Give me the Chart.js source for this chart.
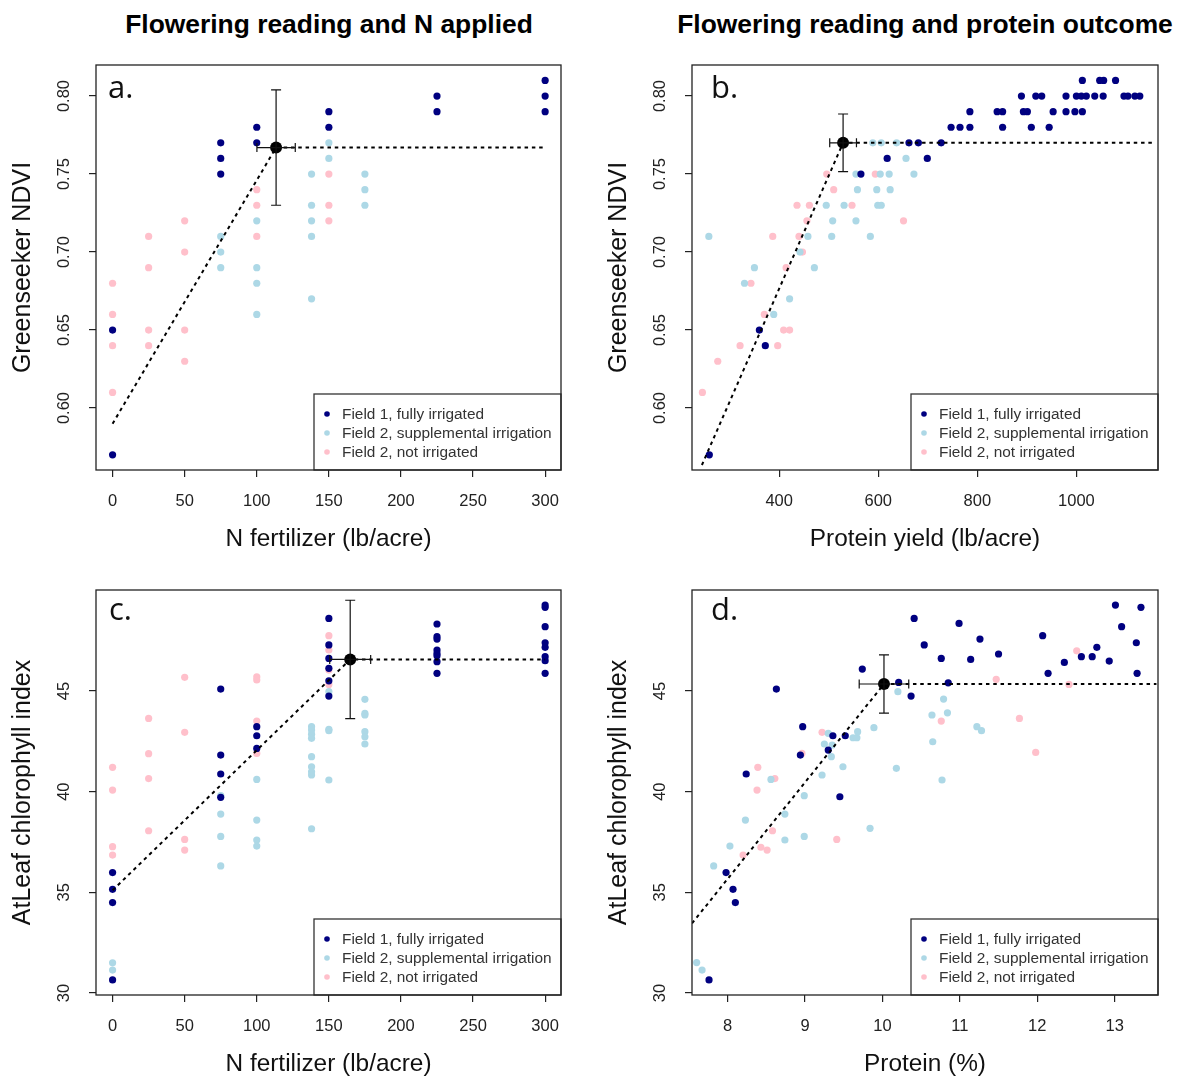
<!DOCTYPE html>
<html lang="en">
<head>
<meta charset="UTF-8">
<title>Flowering reading panels</title>
<script src="https://cdn.jsdelivr.net/npm/chart.js@4.4.1/dist/chart.umd.min.js"></script>
<style>
    body {
        margin: 0;
        background: #ffffff;
        width: 1178px;
        height: 1081px;
        position: relative;
        overflow: hidden;
        font-family: "Liberation Sans", Arial, sans-serif;
    }
    canvas { position: absolute; }
    .title {
        position: absolute;
        font-weight: bold;
        font-size: 26.4px;
        line-height: 30px;
        color: #000;
        white-space: nowrap;
        transform: translateX(-50%);
    }
</style>
</head>
<body>
<div class="title" style="left:329px; top:9px;">Flowering reading and N applied</div>
<div class="title" style="left:925px; top:9px;">Flowering reading and protein outcome</div>

<canvas id="chartA" width="595" height="556" style="left:0px; top:0px;"></canvas>
<canvas id="chartB" width="582" height="556" style="left:596px; top:0px;"></canvas>
<canvas id="chartC" width="595" height="556" style="left:0px; top:525px;"></canvas>
<canvas id="chartD" width="582" height="556" style="left:596px; top:525px;"></canvas>

<script>
// ---- tick labels ----
const nTicks = [0, 50, 100, 150, 200, 250, 300];
const yieldTicks = [400, 600, 800, 1000];
const proteinTicks = [8, 9, 10, 11, 12, 13];
const ndviTicks = [0.60, 0.65, 0.70, 0.75, 0.80];
const chlTicks = [30, 35, 40, 45];

const seriesNames = ['Field 1, fully irrigated', 'Field 2, supplemental irrigation', 'Field 2, not irrigated'];

// ---- a. NDVI vs N fertilizer ----
const aField1 = [[0,0.65],[0,0.57],[75,0.77],[75,0.76],[75,0.75],[100,0.78],[100,0.77],[150,0.79],[150,0.78],
    [225,0.80],[225,0.79],[300,0.81],[300,0.80],[300,0.79]];
const aSupp = [[75,0.71],[75,0.70],[75,0.69],[100,0.72],[100,0.69],[100,0.68],[100,0.66],[138,0.75],[138,0.73],
    [138,0.72],[138,0.71],[138,0.67],[150,0.77],[150,0.76],[175,0.75],[175,0.74],[175,0.73]];
const aDry = [[0,0.68],[0,0.66],[0,0.64],[0,0.61],[25,0.71],[25,0.69],[25,0.65],[25,0.64],[50,0.72],[50,0.70],
    [50,0.65],[50,0.63],[100,0.74],[100,0.73],[100,0.71],[150,0.75],[150,0.73],[150,0.72]];
const aFit = [[0,0.590],[113.4,0.767],[300,0.767]];
const aBreak = [113.4, 0.767, 13.3, 0.037];   // x, y, x error, y error

// ---- b. NDVI vs protein yield ----
const bField1 = [[259,0.57],[360,0.65],[372,0.64],[565,0.75],[618,0.76],[662,0.77],[681,0.77],[699,0.76],[727,0.77],
    [747,0.78],[765,0.78],[785,0.78],[785,0.79],[840,0.79],[851,0.79],[851,0.78],[889,0.80],[893,0.79],[901,0.79],
    [909,0.78],[918,0.80],[930,0.80],[945,0.78],[953,0.79],[979,0.80],[979,0.79],[997,0.79],[1012,0.79],[1000,0.80],
    [1010,0.80],[1020,0.80],[1037,0.80],[1054,0.80],[1012,0.81],[1047,0.81],[1055,0.81],[1079,0.81],[1096,0.80],
    [1104,0.80],[1118,0.80],[1128,0.80]];
const bSupp = [[258,0.71],[330,0.68],[350,0.69],[389,0.66],[421,0.67],[442,0.70],[458,0.71],[471,0.69],[495,0.73],
    [506,0.71],[508,0.72],[531,0.73],[555,0.75],[558,0.74],[555,0.72],[584,0.71],[589,0.77],[606,0.77],[637,0.77],
    [656,0.76],[604,0.75],[622,0.75],[672,0.75],[597,0.74],[624,0.74],[599,0.73],[606,0.73]];
const bDry = [[245,0.61],[276,0.63],[321,0.64],[343,0.68],[370,0.66],[387,0.71],[397,0.64],[409,0.65],[421,0.65],
    [414,0.69],[436,0.73],[440,0.71],[447,0.70],[456,0.72],[461,0.73],[496,0.75],[510,0.74],[547,0.73],[594,0.75],
    [651,0.72]];
const bFit = [[244,0.5635],[529,0.77],[1154,0.77]];
const bBreak = [529, 0.77, 27, 0.0185];

// ---- c. AtLeaf vs N fertilizer ----
const cField1 = [[0,35.98],[0,35.15],[0,34.49],[0,30.65],[75,45.1],[75,41.82],[75,40.88],[75,39.72],[100,43.23],
    [100,42.78],[100,42.15],[150,48.61],[150,47.29],[150,46.62],[150,46.13],[150,45.51],[150,44.75],[225,48.33],
    [225,47.7],[225,47.58],[225,47.04],[225,46.87],[225,46.75],[225,46.46],[225,45.88],[300,49.27],[300,49.16],
    [300,48.2],[300,47.4],[300,47.17],[300,46.71],[300,46.51],[300,45.88]];
const cSupp = [[0,31.5],[0,31.14],[75,39.8],[75,38.89],[75,37.78],[75,36.31],[100,40.61],[100,38.59],[100,37.6],
    [100,37.3],[138,43.23],[138,43.06],[138,42.86],[138,42.65],[138,41.74],[138,41.24],[138,40.99],[138,40.83],
    [138,38.16],[150,44.97],[150,43.1],[150,43.03],[150,40.58],[175,44.59],[175,43.89],[175,43.81],[175,42.98],
    [175,42.73],[175,42.37]];
const cDry = [[0,41.21],[0,40.08],[0,37.27],[0,36.85],[25,43.64],[25,41.89],[25,40.65],[25,38.06],[50,45.68],
    [50,42.95],[50,37.63],[50,37.1],[100,45.7],[100,45.55],[100,43.51],[100,41.9],[150,47.75],[150,47.04],
    [150,46.04],[150,45.33]];
const cFit = [[0,35.1],[164.8,46.57],[300,46.57]];
const cBreak = [164.8, 46.57, 14.2, 2.94];

// ---- d. AtLeaf vs protein % ----
const dField1 = [[7.76,30.65],[7.98,35.98],[8.07,35.15],[8.10,34.49],[8.24,40.88],[8.63,45.1],[8.97,43.23],
    [8.94,41.82],[9.36,42.78],[9.30,42.07],[9.52,42.78],[9.45,39.75],[9.74,46.09],[10.21,45.43],[10.37,44.75],
    [10.41,48.61],[10.54,47.29],[10.76,46.62],[10.85,45.41],[10.99,48.36],[11.14,46.57],[11.26,47.58],[11.50,46.84],
    [12.07,47.75],[12.14,45.88],[12.35,46.42],[12.57,46.71],[12.71,46.71],[12.77,47.17],[12.93,46.49],[13.01,49.27],
    [13.09,48.2],[13.28,47.4],[13.29,45.88],[13.34,49.16]];
const dSupp = [[7.60,31.51],[7.67,31.14],[7.82,36.31],[8.03,37.3],[8.23,38.59],[8.56,40.61],[8.74,38.89],[8.74,37.6],
    [8.99,39.8],[8.99,37.78],[9.22,40.83],[9.30,42.9],[9.25,42.37],[9.35,42.32],[9.34,41.74],[9.49,41.24],[9.62,42.68],
    [9.67,42.68],[9.68,42.98],[9.84,38.18],[9.89,43.18],[10.18,41.16],[10.20,44.97],[10.79,44.6],[10.64,43.81],
    [10.84,43.92],[10.65,42.48],[10.77,40.58],[11.22,43.23],[11.28,43.03]];
const dDry = [[8.20,36.85],[8.39,41.21],[8.38,40.08],[8.61,40.65],[8.43,37.24],[8.51,37.1],[8.58,38.06],[8.96,41.9],
    [9.22,42.95],[9.41,37.63],[10.76,43.51],[11.47,45.58],[11.77,43.64],[11.98,41.95],[12.41,45.33],[12.51,47.0]];
const dFit = [[7.54,33.46],[10.02,45.35],[13.54,45.35]];
const dBreak = [10.02, 45.35, 0.32, 1.45];

const FONT = '"Liberation Sans", Arial, sans-serif';
const colors = ['#000080', '#ADD8E6', '#FFC0CB'];

function pts(arr) {
    return arr.map(p => ({ x: p[0], y: p[1] }));
}

// box, rotated y labels, error bars, panel letter and legend
const decorPlugin = {
    id: 'decor',
    afterDraw(chart, args, o) {
        const c = chart.ctx;
        const a = chart.chartArea;
        const xs = chart.scales.x, ys = chart.scales.y;
        c.save();

        // y tick labels, rotated like R
        c.fillStyle = '#222';
        c.font = '16.5px ' + FONT;
        c.textAlign = 'center';
        c.textBaseline = 'middle';
        o.yTicks.forEach(v => {
            const py = ys.getPixelForValue(v);
            c.save();
            c.translate(a.left - 32, py);
            c.rotate(-Math.PI / 2);
            c.fillText(o.yFmt(v), 0, 0);
            c.restore();
        });

        // error bars on the breakpoint
        const b = o.brk;
        const bx = xs.getPixelForValue(b[0]), by = ys.getPixelForValue(b[1]);
        const x1 = xs.getPixelForValue(b[0] - b[2]), x2 = xs.getPixelForValue(b[0] + b[2]);
        const y1 = ys.getPixelForValue(b[1] + b[3]), y2 = ys.getPixelForValue(b[1] - b[3]);
        c.strokeStyle = '#111';
        c.lineWidth = 1.2;
        c.beginPath();
        c.moveTo(bx, y1); c.lineTo(bx, y2);
        c.moveTo(bx - 5, y1); c.lineTo(bx + 5, y1);
        c.moveTo(bx - 5, y2); c.lineTo(bx + 5, y2);
        c.moveTo(x1, by); c.lineTo(x2, by);
        c.moveTo(x1, by - 4.5); c.lineTo(x1, by + 4.5);
        c.moveTo(x2, by - 4.5); c.lineTo(x2, by + 4.5);
        c.stroke();

        // panel letter
        c.fillStyle = '#111';
        c.font = '31px "Open Sans", sans-serif';
        c.textAlign = 'left';
        c.textBaseline = 'alphabetic';
        c.fillText(o.letter, a.left + o.letterDx, a.top + o.letterDy);

        // legend
        const lx = a.right - 247, ly = a.bottom - 76;
        c.fillStyle = '#fff';
        c.fillRect(lx, ly, 247, 76);
        c.strokeStyle = '#333';
        c.lineWidth = 1.3;
        c.strokeRect(lx, ly, 247, 76);
        c.font = '15.4px ' + FONT;
        c.textBaseline = 'middle';
        seriesNames.forEach((name, i) => {
            const ry = a.bottom - 56 + i * 19;
            c.fillStyle = colors[i];
            c.beginPath();
            c.arc(lx + 13, ry, 2.8, 0, Math.PI * 2);
            c.fill();
            c.fillStyle = '#333';
            c.fillText(name, lx + 28, ry + 1);
        });

        // plot box
        c.strokeStyle = '#222';
        c.lineWidth = 1.3;
        c.strokeRect(a.left, a.top, a.right - a.left, a.bottom - a.top);
        c.restore();
    }
};

function makePanel(id, p) {
    const sets = [
        { label: 'fit', data: pts(p.fit), showLine: true, borderColor: '#000', borderWidth: 2,
          borderDash: [3.5, 3.8], pointRadius: 0, fill: false },
        { label: 'breakpoint', data: [{ x: p.brk[0], y: p.brk[1] }], backgroundColor: '#000',
          borderWidth: 0, pointRadius: 6 }
    ];
    [p.f1, p.supp, p.dry].forEach((arr, i) => {
        sets.push({ label: seriesNames[i], data: pts(arr), backgroundColor: colors[i],
                    borderWidth: 0, pointRadius: 3.6 });
    });

    return new Chart(document.getElementById(id), {
        type: 'scatter',
        data: { datasets: sets },
        plugins: [decorPlugin],
        options: {
            responsive: false,
            animation: false,
            layout: { padding: { left: 0, top: 65, right: p.padRight, bottom: 0 } },
            plugins: {
                legend: { display: false },
                tooltip: { enabled: false },
                decor: { yTicks: p.yTicks, yFmt: p.yFmt, brk: p.brk, letter: p.letter,
                         letterDx: p.letterDx, letterDy: p.letterDy }
            },
            scales: {
                x: {
                    type: 'linear', min: p.xMin, max: p.xMax,
                    afterBuildTicks: s => { s.ticks = p.xTicks.map(v => ({ value: v })); },
                    afterFit: s => { s.height = 86; },
                    grid: { drawOnChartArea: false, drawTicks: true, tickLength: 7, color: '#222', lineWidth: 1.2 },
                    border: { display: false },
                    ticks: { color: '#222', font: { size: 16.5, family: FONT }, padding: 15, maxRotation: 0,
                             autoSkip: false, callback: v => String(v) },
                    title: { display: true, text: p.xTitle, color: '#111', font: { size: 24.4, family: FONT },
                             padding: { top: 0, bottom: 2 } }
                },
                y: {
                    type: 'linear', min: p.yMin, max: p.yMax,
                    afterBuildTicks: s => { s.ticks = p.yTicks.map(v => ({ value: v })); },
                    afterFit: s => { s.width = 96; },
                    grid: { drawOnChartArea: false, drawTicks: true, tickLength: 7, color: '#222', lineWidth: 1.2 },
                    border: { display: false },
                    ticks: { display: false },
                    title: { display: true, text: p.yTitle, color: '#111', font: { size: 25, family: FONT },
                             padding: { top: 8, bottom: 0 } }
                }
            }
        }
    });
}

const ndviFmt = v => v.toFixed(2);
const chlFmt = v => String(v);

makePanel('chartA', { f1: aField1, supp: aSupp, dry: aDry, fit: aFit, brk: aBreak,
    xMin: -11.5, xMax: 311, xTicks: nTicks, yMin: 0.5603, yMax: 0.8199, yTicks: ndviTicks, yFmt: ndviFmt,
    xTitle: 'N fertilizer (lb/acre)', yTitle: 'Greenseeker NDVI', letter: 'a.', letterDx: 12, letterDy: 33, padRight: 34 });

makePanel('chartB', { f1: bField1, supp: bSupp, dry: bDry, fit: bFit, brk: bBreak,
    xMin: 224, xMax: 1164.7, xTicks: yieldTicks, yMin: 0.5603, yMax: 0.8199, yTicks: ndviTicks, yFmt: ndviFmt,
    xTitle: 'Protein yield (lb/acre)', yTitle: 'Greenseeker NDVI', letter: 'b.', letterDx: 19, letterDy: 33, padRight: 20 });

makePanel('chartC', { f1: cField1, supp: cSupp, dry: cDry, fit: cFit, brk: cBreak,
    xMin: -11.5, xMax: 311, xTicks: nTicks, yMin: 29.9, yMax: 50.02, yTicks: chlTicks, yFmt: chlFmt,
    xTitle: 'N fertilizer (lb/acre)', yTitle: 'AtLeaf chlorophyll index', letter: 'c.', letterDx: 13, letterDy: 30, padRight: 34 });

makePanel('chartD', { f1: dField1, supp: dSupp, dry: dDry, fit: dFit, brk: dBreak,
    xMin: 7.54, xMax: 13.56, xTicks: proteinTicks, yMin: 29.9, yMax: 50.02, yTicks: chlTicks, yFmt: chlFmt,
    xTitle: 'Protein (%)', yTitle: 'AtLeaf chlorophyll index', letter: 'd.', letterDx: 19, letterDy: 30, padRight: 20 });
</script>
</body>
</html>
